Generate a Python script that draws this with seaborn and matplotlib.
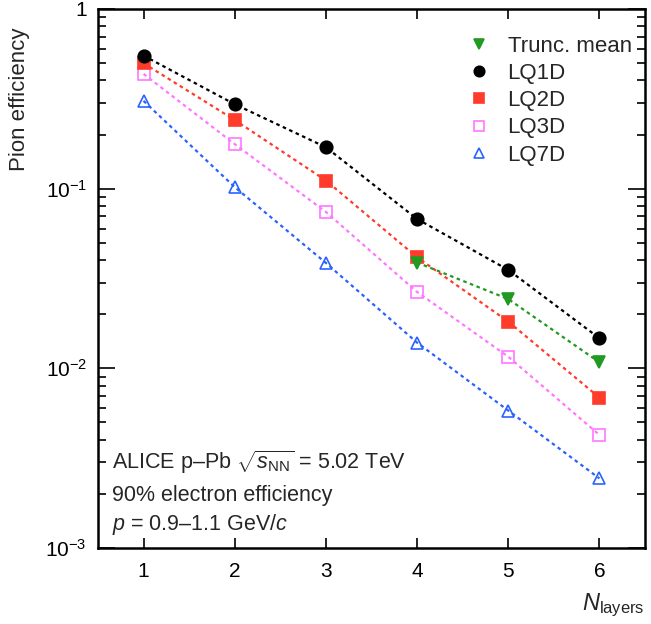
import numpy as np
import pandas as pd
import matplotlib
matplotlib.use("Agg")
import matplotlib.pyplot as plt
import matplotlib.ticker as mticker
from matplotlib.lines import Line2D
import seaborn as sns

# pion efficiency vs number of layers
layers = [1, 2, 3, 4, 5, 6]
trunc_layers = [4, 5, 6]
trunc_mean = [0.0388, 0.0243, 0.0108]
lq1d = [0.55, 0.295, 0.17, 0.0678, 0.0353, 0.0147]
lq2d = [0.499, 0.241, 0.111, 0.0415, 0.0182, 0.00687]
lq3d = [0.435, 0.177, 0.0742, 0.0266, 0.0116, 0.00426]
lq7d = [0.308, 0.102, 0.0386, 0.0139, 0.00582, 0.00244]

sns.set_style("ticks")
plt.rcParams['font.family'] = ['Liberation Sans', 'DejaVu Sans']
plt.rcParams['mathtext.fontset'] = 'custom'
plt.rcParams['mathtext.rm'] = 'Liberation Sans'
plt.rcParams['mathtext.it'] = 'Liberation Sans:italic'

fig = plt.figure(figsize=(6.51, 6.24), dpi=100)
ax = fig.add_axes([0.1505, 0.1218, 0.8403, 0.8638])

series = [
    ("LQ7D", layers, lq7d, "#2a62ff", "^", "none"),
    ("LQ3D", layers, lq3d, "#ff77ff", "s", "none"),
    ("LQ2D", layers, lq2d, "#ff3b2b", "s", "#ff3b2b"),
    ("LQ1D", layers, lq1d, "black", "o", "black"),
    ("Trunc. mean", trunc_layers, trunc_mean, "#229922", "v", "#229922"),
]
handles = {}
for name, xs, ys, col, mk, fc in series:
    df = pd.DataFrame({"n": xs, "eff": ys})
    ms = 9 if mk in ("o", "v") else 8
    sns.lineplot(data=df, x="n", y="eff", ax=ax, color=col, lw=1.6,
                 linestyle=(0, (1.6, 1.6)), marker=mk, markersize=ms,
                 markerfacecolor=fc, markeredgecolor=col, markeredgewidth=1.2)
    handles[name] = Line2D([], [], linestyle="none", marker=mk, markersize=ms - 1.5,
                           color=col, markerfacecolor=fc, markeredgecolor=col,
                           markeredgewidth=1.2)

order = ["Trunc. mean", "LQ1D", "LQ2D", "LQ3D", "LQ7D"]
ax.legend([handles[k] for k in order], order, loc="upper right",
          bbox_to_anchor=(1.0, 0.975), frameon=False, fontsize=16,
          handletextpad=0.3, labelspacing=0.28, borderaxespad=0.2)

ax.set_yscale("log")
ax.set_xlim(0.5, 6.5)
ax.set_ylim(1e-3, 1)
ax.set_xticks(layers)
ax.xaxis.set_minor_locator(mticker.NullLocator())


def fmt(v, pos):
    e = int(round(np.log10(v)))
    return "1" if e == 0 else r"$10^{%d}$" % e


ax.yaxis.set_major_formatter(mticker.FuncFormatter(fmt))
ax.yaxis.set_minor_locator(mticker.LogLocator(base=10, subs=np.arange(2, 10)))
ax.yaxis.set_minor_formatter(mticker.NullFormatter())
ax.tick_params(which="both", direction="in", top=True, right=True, width=1.2,
               labelsize=15, colors="black")
ax.tick_params(axis="x", which="major", length=7, pad=10)
ax.tick_params(axis="y", which="major", length=12, pad=8)
ax.tick_params(axis="y", which="minor", length=6)
for s in ax.spines.values():
    s.set_linewidth(1.8)
    s.set_edgecolor("black")

ax.set_xlabel(r"$N_{\mathrm{layers}}$", fontsize=17, loc="right", labelpad=8)
ax.set_ylabel("Pion efficiency", fontsize=16, labelpad=10)
ax.yaxis.set_label_coords(-0.125, 0.965)
ax.yaxis.label.set_ha("right")

ax.text(0.025, 0.16, r"ALICE p–Pb $\sqrt{s_{\mathrm{NN}}}$ = 5.02 TeV",
        transform=ax.transAxes, fontsize=15.5, va="center")
ax.text(0.025, 0.098, "90% electron efficiency", transform=ax.transAxes,
        fontsize=15.5, va="center")
ax.text(0.025, 0.043, r"$p$ = 0.9–1.1 GeV/$c$", transform=ax.transAxes,
        fontsize=15.5, va="center")

fig.savefig("out.png", dpi=100)
